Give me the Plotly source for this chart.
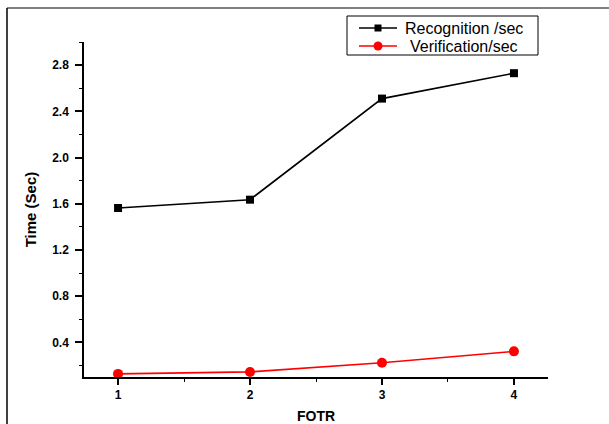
import plotly.graph_objects as go

fotr = [1, 2, 3, 4]
recognition = [1.563, 1.635, 2.51, 2.73]
verification = [0.127, 0.144, 0.224, 0.322]
series_names = ["Recognition /sec", "Verification/sec"]
y_ticks = [0.4, 0.8, 1.2, 1.6, 2.0, 2.4, 2.8]
y_tick_text = ["0.4", "0.8", "1.2", "1.6", "2.0", "2.4", "2.8"]

W, H = 609, 424
L, R, T, B = 84, 61, 42, 47
pw, ph = W - L - R, H - T - B


def px(x):
    return (x - L) / pw


def py(y):
    return (H - B - y) / ph


FONT = "Liberation Sans, Arial"

fig = go.Figure()
fig.add_trace(go.Scatter(
    x=fotr, y=recognition, mode="lines+markers", name=series_names[0],
    line=dict(color="black", width=1.6),
    marker=dict(symbol="square", size=8, color="black"),
))
fig.add_trace(go.Scatter(
    x=fotr, y=verification, mode="lines+markers", name=series_names[1],
    line=dict(color="red", width=1.6),
    marker=dict(symbol="circle", size=10, color="red"),
))

fig.update_layout(
    width=W, height=H,
    margin=dict(l=L, r=R, t=T, b=B, pad=0, autoexpand=False),
    paper_bgcolor="white", plot_bgcolor="white",
    showlegend=False,
    xaxis=dict(
        range=[0.742, 4.258], tickvals=fotr, ticktext=[str(v) for v in fotr],
        automargin=False,
        showgrid=False, zeroline=False, showline=True, linecolor="black", linewidth=1.5,
        ticks="outside", ticklen=6, tickwidth=1.5, tickcolor="black",
        minor=dict(tickvals=[1.5, 2.5, 3.5], ticks="outside", ticklen=3, tickwidth=1.2, tickcolor="black"),
        tickfont=dict(family=FONT, size=12, color="black", weight="bold"),
        title=dict(text="<b>FOTR</b>", standoff=14,
                   font=dict(family=FONT, size=14, color="black")),
    ),
    yaxis=dict(
        range=[0.1, 3.0], tickvals=y_ticks, ticktext=y_tick_text,
        automargin=False,
        showgrid=False, zeroline=False, showline=True, linecolor="black", linewidth=1.5,
        ticks="outside", ticklen=7, tickwidth=1.5, tickcolor="black",
        ticklabelstandoff=4,
        minor=dict(tickvals=[0.2, 0.6, 1.0, 1.4, 1.8, 2.2, 2.6, 3.0], ticks="outside",
                   ticklen=3.5, tickwidth=1.2, tickcolor="black"),
        tickfont=dict(family=FONT, size=12, color="black", weight="bold"),
        title=dict(text="<b>Time (Sec)</b>", standoff=12,
                   font=dict(family=FONT, size=15, color="black")),
    ),
)

# outer frame: grey line at top, black line at left
fig.add_shape(type="line", xref="paper", yref="paper",
              x0=px(7), x1=px(W), y0=py(8), y1=py(8),
              line=dict(color="#808080", width=2))
fig.add_shape(type="line", xref="paper", yref="paper",
              x0=px(7), x1=px(7), y0=py(8), y1=py(H),
              line=dict(color="black", width=1.5))

# legend drawn by hand to match the original box
fig.add_shape(type="rect", xref="paper", yref="paper",
              x0=px(347), x1=px(538), y0=py(16), y1=py(55),
              line=dict(color="black", width=1), fillcolor="white")
legend_rows = [(28, "black", "square", 403), (46, "red", "circle", 408)]
for (yy, col, sym, tx), name in zip(legend_rows, series_names):
    fig.add_shape(type="line", xref="paper", yref="paper",
                  x0=px(359), x1=px(397), y0=py(yy), y1=py(yy),
                  line=dict(color=col, width=1.6))
    half = 3.5 if sym == "square" else 4.5
    fig.add_shape(type="rect" if sym == "square" else "circle",
                  xref="paper", yref="paper",
                  xsizemode="pixel", ysizemode="pixel",
                  xanchor=px(378), yanchor=py(yy),
                  x0=-half, x1=half, y0=-half, y1=half,
                  line=dict(color=col, width=0), fillcolor=col)
    fig.add_annotation(xref="paper", yref="paper", x=px(tx), y=py(yy),
                       xanchor="left", yanchor="middle", showarrow=False,
                       text=name, font=dict(family=FONT, size=16, color="black"))

fig.write_html("out.html")
